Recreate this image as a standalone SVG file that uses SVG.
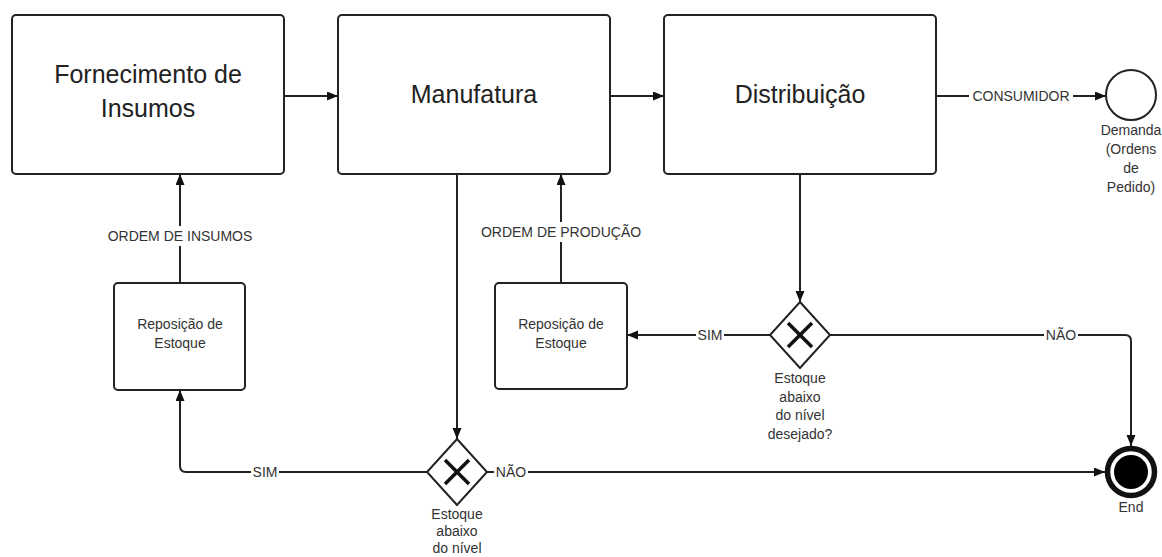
<svg xmlns="http://www.w3.org/2000/svg" width="1162" height="557" viewBox="0 0 1162 557">
  <style>
    .box { fill: #fff; stroke: #222; stroke-width: 2; }
    .big { font-family: "Liberation Sans", Arial, sans-serif; font-size: 25px; fill: #222; text-anchor: middle; }
    .small { font-family: "Liberation Sans", Arial, sans-serif; font-size: 14px; fill: #333; text-anchor: middle; }
    .lbl { font-family: "Liberation Sans", Arial, sans-serif; font-size: 14px; fill: #333; text-anchor: middle; dominant-baseline: central; }
    .edge { fill: none; stroke: #222; stroke-width: 2; }
    .gw { fill: #fff; stroke: #222; stroke-width: 2; }
    .gwx { stroke: #111; stroke-width: 3.5; }
    .mask { fill: #fff; }
  </style>
  <defs>
    <marker id="arrow" markerUnits="userSpaceOnUse" markerWidth="12" markerHeight="10" refX="11" refY="4.5" orient="auto">
      <path d="M0,0 L11,4.5 L0,9 z" fill="#111"/>
    </marker>
  </defs>

  <rect width="1162" height="557" fill="#fff"/>

  <!-- connectors -->
  <g id="connectors">
    <path class="edge" d="M284,96 H338" marker-end="url(#arrow)"/>
    <path class="edge" d="M610,96 H664" marker-end="url(#arrow)"/>
    <path class="edge" d="M936,96 H1106" marker-end="url(#arrow)"/>
    <path class="edge" d="M457,174 V439" marker-end="url(#arrow)"/>
    <path class="edge" d="M427,472 H186 Q180,472 180,466 V390" marker-end="url(#arrow)"/>
    <path class="edge" d="M180,283 V174" marker-end="url(#arrow)"/>
    <path class="edge" d="M487,472 H1105" marker-end="url(#arrow)"/>
    <path class="edge" d="M800,174 V302" marker-end="url(#arrow)"/>
    <path class="edge" d="M770,335 H627" marker-end="url(#arrow)"/>
    <path class="edge" d="M561,283 V174" marker-end="url(#arrow)"/>
    <path class="edge" d="M830,335 H1125 Q1131,335 1131,341 V446" marker-end="url(#arrow)"/>

    <!-- line labels -->
    <rect class="mask" x="969" y="88" width="104" height="16"/>
    <text class="lbl" x="1021" y="96">CONSUMIDOR</text>
    <rect class="mask" x="102" y="226" width="156" height="20"/>
    <text class="lbl" x="180" y="236">ORDEM DE INSUMOS</text>
    <rect class="mask" x="475" y="222" width="172" height="20"/>
    <text class="lbl" x="561" y="232">ORDEM DE PRODUÇÃO</text>
    <rect class="mask" x="696" y="327" width="28" height="16"/>
    <text class="lbl" x="710" y="335">SIM</text>
    <rect class="mask" x="251" y="464" width="28" height="16"/>
    <text class="lbl" x="265" y="472">SIM</text>
    <rect class="mask" x="494" y="464" width="34" height="16"/>
    <text class="lbl" x="511" y="472">NÃO</text>
    <rect class="mask" x="1044" y="327" width="34" height="16"/>
    <text class="lbl" x="1061" y="335">NÃO</text>
  </g>

  <!-- main process boxes -->
  <g id="fornecimento">
    <rect class="box" x="12" y="15" width="272" height="159" rx="4"/>
    <text class="big" x="148" y="83">Fornecimento de</text>
    <text class="big" x="148" y="117">Insumos</text>
  </g>
  <g id="manufatura">
    <rect class="box" x="338" y="15" width="272" height="159" rx="4"/>
    <text class="big" x="474" y="103">Manufatura</text>
  </g>
  <g id="distribuicao">
    <rect class="box" x="664" y="15" width="272" height="159" rx="4"/>
    <text class="big" x="800" y="103">Distribuição</text>
  </g>

  <!-- demand start event -->
  <g id="demanda">
    <circle cx="1131" cy="95" r="25" fill="#fff" stroke="#222" stroke-width="2"/>
    <text class="small" x="1131" y="135">Demanda</text>
    <text class="small" x="1131" y="154">(Ordens</text>
    <text class="small" x="1131" y="173">de</text>
    <text class="small" x="1131" y="192">Pedido)</text>
  </g>

  <!-- stock replenishment tasks -->
  <g id="reposicao-insumos">
    <rect class="box" x="114" y="283" width="131" height="107" rx="4"/>
    <text class="small" x="180" y="329">Reposição de</text>
    <text class="small" x="180" y="348">Estoque</text>
  </g>
  <g id="reposicao-producao">
    <rect class="box" x="495" y="283" width="132" height="106" rx="4"/>
    <text class="small" x="561" y="329">Reposição de</text>
    <text class="small" x="561" y="348">Estoque</text>
  </g>

  <!-- exclusive gateways -->
  <g id="gateway-distribuicao">
    <polygon class="gw" points="800,302 830,335 800,368 770,335"/>
    <line class="gwx" x1="788" y1="323" x2="812" y2="347"/>
    <line class="gwx" x1="812" y1="323" x2="788" y2="347"/>
    <text class="small" x="800" y="383">Estoque</text>
    <text class="small" x="800" y="402">abaixo</text>
    <text class="small" x="800" y="420">do nível</text>
    <text class="small" x="800" y="439">desejado?</text>
  </g>
  <g id="gateway-manufatura">
    <polygon class="gw" points="457,439 487,472 457,505 427,472"/>
    <line class="gwx" x1="445" y1="460" x2="469" y2="484"/>
    <line class="gwx" x1="469" y1="460" x2="445" y2="484"/>
    <text class="small" x="457" y="519">Estoque</text>
    <text class="small" x="457" y="536">abaixo</text>
    <text class="small" x="457" y="553">do nível</text>
  </g>

  <!-- end event -->
  <g id="end">
    <circle cx="1131" cy="472" r="23.5" fill="#fff" stroke="#111" stroke-width="5.5"/>
    <circle cx="1131" cy="472" r="17" fill="#000"/>
    <text class="small" x="1131" y="512" font-size="13">End</text>
  </g>
</svg>
